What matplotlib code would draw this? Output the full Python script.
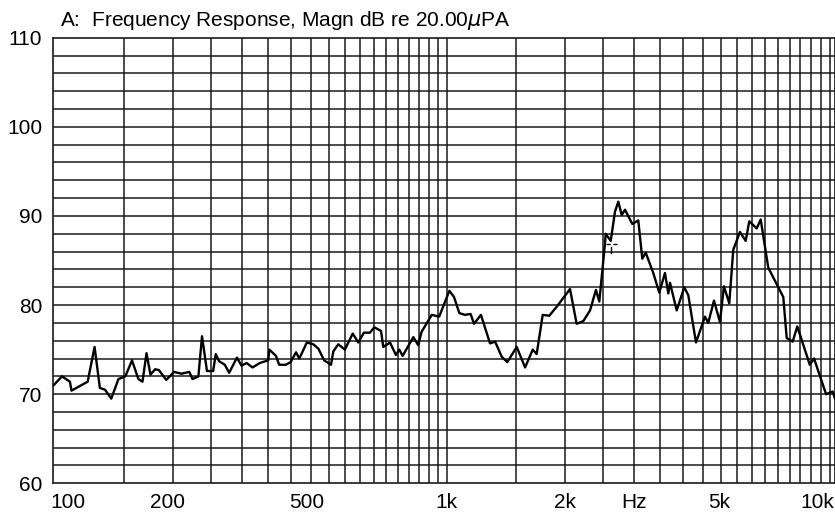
import numpy as np
import matplotlib
matplotlib.use("Agg")
import matplotlib.pyplot as plt
from matplotlib import transforms

plt.rcParams['font.family'] = ['Liberation Sans', 'DejaVu Sans']

freq_hz = [99, 104, 109, 110, 121, 126, 130, 134, 139, 145, 151, 157, 163, 167,
           171, 175, 180, 184, 192, 201, 210, 220, 224, 232, 237, 244, 253, 257,
           262, 271, 278, 291, 299, 308, 319, 333, 350, 352, 366, 373, 388, 399,
           412, 420, 439, 456, 470, 486, 506, 513, 528, 549, 575, 594, 614, 636,
           653, 679, 688, 716, 741, 756, 771, 821, 845, 862, 915, 956, 1015, 1043,
           1076, 1112, 1150, 1173, 1222, 1289, 1328, 1381, 1427, 1508, 1584, 1657,
           1696, 1757, 1826, 1907, 1983, 2063, 2145, 2231, 2321, 2403, 2451, 2534,
           2545, 2621, 2688, 2741, 2796, 2851, 2976, 3082, 3156, 3219, 3366, 3487,
           3606, 3677, 3714, 3863, 4040, 4136, 4327, 4562, 4651, 4810, 4982, 5100,
           5263, 5388, 5604, 5796, 5920, 6184, 6331, 6619, 7230, 7377, 7642, 7850,
           8056, 8450, 8665, 9299, 9667, 9798]
level_db = [71.0, 72.0, 71.4, 70.4, 71.4, 75.3, 70.7, 70.5, 69.5, 71.7, 72.0, 73.8,
            71.7, 71.4, 74.6, 72.2, 72.8, 72.7, 71.6, 72.5, 72.3, 72.5, 71.7, 72.0,
            76.5, 72.6, 72.6, 74.5, 73.7, 73.3, 72.4, 74.1, 73.2, 73.5, 73.0, 73.5,
            73.8, 75.0, 74.3, 73.3, 73.3, 73.6, 74.7, 74.0, 75.8, 75.6, 75.1, 73.8,
            73.3, 74.8, 75.6, 75.0, 76.8, 75.8, 76.9, 76.9, 77.5, 77.1, 75.3, 75.8,
            74.4, 75.0, 74.3, 76.4, 75.5, 77.0, 78.9, 78.7, 81.6, 80.9, 79.1, 78.9,
            79.0, 77.9, 78.9, 75.7, 75.9, 74.2, 73.6, 75.3, 73.0, 75.0, 74.5, 78.9,
            78.8, 79.8, 80.8, 81.8, 77.9, 78.2, 79.4, 81.7, 80.4, 86.9, 88.0, 87.2,
            90.5, 91.6, 90.1, 90.7, 89.1, 89.5, 85.2, 85.9, 83.6, 81.4, 83.6, 81.3,
            82.5, 79.4, 82.0, 81.1, 75.8, 78.7, 78.0, 80.5, 78.1, 82.1, 80.2, 86.2,
            88.2, 87.2, 89.4, 88.6, 89.6, 84.2, 80.9, 76.3, 75.9, 77.6, 76.1, 73.3,
            74.0, 70.0, 70.3, 69.5]

cursor_hz = 2620
cursor_db = 86.8

tick_hz = [100, 200, 500, 1000, 2000, 3000, 5000, 10000]
tick_text = ['100', '200', '500', '1k', '2k', 'Hz', '5k', '10k']
# small pixel nudges so the labels sit where the analyser put them
tick_nudge = [0, -6, -22, 0, 0, 0, -1, -21]

fig = plt.figure(figsize=(8.35, 5.14), dpi=100)
ax = fig.add_axes([52.7 / 835, 30.7 / 514, 782.3 / 835, 445.6 / 514])

# grid: 50 Hz steps below 1k, 500 Hz steps above, 2 dB steps vertically
vgrid = list(range(150, 1000, 50)) + list(range(1000, 10000, 500))
for f in vgrid:
    ax.axvline(f, color='#1a1a1a', lw=1.1, zorder=1)
for d in range(62, 110, 2):
    ax.axhline(d, color='#1a1a1a', lw=1.1, zorder=1)

ax.plot(freq_hz, level_db, color='black', lw=1.7, zorder=3)

# cursor crosshair
ax.plot([cursor_hz * 0.975, cursor_hz * 1.035], [cursor_db, cursor_db],
        color='black', lw=1.0, ls=(0, (3, 2)), zorder=4)
ax.plot([cursor_hz, cursor_hz], [cursor_db - 1.0, cursor_db - 0.3],
        color='black', lw=1.0, zorder=4)

ax.set_xscale('log')
ax.set_xlim(98.5, 9800)
ax.set_ylim(60, 110)
ax.set_xticks([])
ax.set_xticks([], minor=True)
ax.set_yticks([60, 70, 80, 90, 100, 110])
ax.tick_params(axis='y', length=0, pad=7.5, labelsize=15)
for s in ax.spines.values():
    s.set_color('#1a1a1a')
    s.set_linewidth(1.2)

blend = transforms.blended_transform_factory(ax.transData, ax.transAxes)
for f, t, dx in zip(tick_hz, tick_text, tick_nudge):
    tr = blend + transforms.ScaledTranslation(dx / 100, 0, fig.dpi_scale_trans)
    ha = 'center'
    if t == '100':
        ha = 'left'
        tr = transforms.blended_transform_factory(ax.transAxes, ax.transAxes) + \
            transforms.ScaledTranslation(-2 / 100, 0, fig.dpi_scale_trans)
        f = 0
    ax.text(f, -0.044, t, transform=tr, ha=ha, va='center', fontsize=15,
            clip_on=False)

fig.text(60 / 835, 1 - 20 / 514, 'A:  Frequency Response, Magn dB re 20.00$\\mu$PA',
         ha='left', va='center', fontsize=15)

fig.savefig('out.png', dpi=100)
